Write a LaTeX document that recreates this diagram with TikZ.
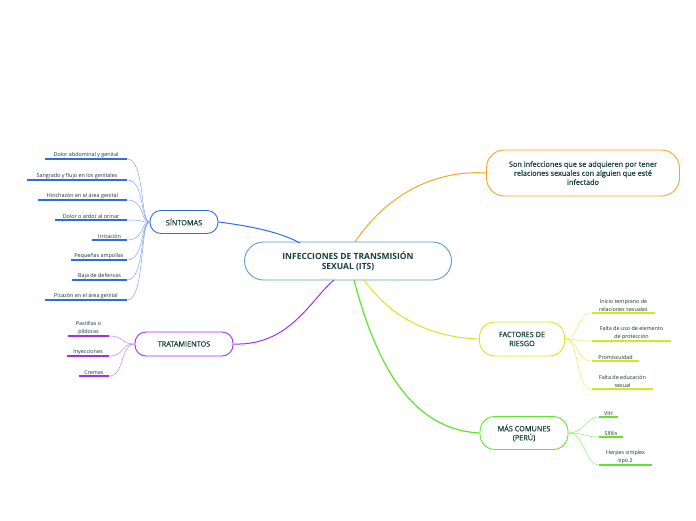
\documentclass[tikz,border=0pt]{standalone}
\usepackage{fontspec}
\setmainfont{Open Sans}
\usetikzlibrary{positioning}
\definecolor{txt}{HTML}{17403A}
\definecolor{cblue}{HTML}{2E6BE6}
\definecolor{ccen}{HTML}{5B9BD5}
\definecolor{cpur}{HTML}{A42EE6}
\definecolor{corg}{HTML}{F5A623}
\definecolor{cyel}{HTML}{CDEB1E}
\definecolor{cgrn}{HTML}{5EE62E}
\tikzset{
  topic/.style={draw, rounded corners=11pt, line width=0.9pt, fill=white, text=txt,
    align=center, font=\fontsize{7.3}{9}\selectfont\addfontfeatures{FakeBold=0.6}, inner sep=3pt},
  leaf/.style={text=txt!80!black, align=center, font=\fontsize{5.4}{7.4}\selectfont,
    inner sep=1.5pt, anchor=south},
  uline/.style={line width=1.2pt},
  link/.style={line width=0.5pt}
}
\begin{document}
\begin{tikzpicture}[x=1pt,y=-1pt]
\useasboundingbox (0,0) rectangle (696,520);
% main topics
\node[topic, draw=ccen, minimum width=207pt, minimum height=38pt, rounded corners=19pt,
  font=\fontsize{8.5}{10}\selectfont\bfseries] (its) at (348,261) {INFECCIONES DE TRANSMISIÓN\\SEXUAL (ITS)};
\node[topic, draw=cblue, minimum width=68pt, minimum height=23pt] (sint) at (184,222) {SÍNTOMAS};
\node[topic, draw=cpur, minimum width=98pt, minimum height=24pt] (trat) at (184,344) {TRATAMIENTOS};
\node[topic, draw=corg, minimum width=193pt, minimum height=46pt, rounded corners=18pt] (def) at (583,173)
  {Son infecciones que se adquieren por tener\\relaciones sexuales con alguien que esté\\infectado};
\node[topic, draw=cyel, minimum width=85pt, minimum height=34pt, rounded corners=15pt] (fact) at (522,339) {FACTORES DE\\RIESGO};
\node[topic, draw=cgrn, minimum width=88pt, minimum height=33pt, rounded corners=15pt] (com) at (524,433) {MÁS COMUNES\\(PERÚ)};

% main links
\draw[cblue, line width=1pt] (sint.east) .. controls (250,226) and (280,232) .. (300,243);
\draw[cpur, line width=1pt] (trat.east) .. controls (290,346) and (310,300) .. (334,280);
\draw[corg, line width=1pt] (355,242) .. controls (390,190) and (440,170) .. (def.west);
\draw[cyel, line width=1pt] (364,280) .. controls (400,330) and (450,338) .. (fact.west);
\draw[cgrn, line width=1.2pt] (354,280) .. controls (380,380) and (420,430) .. (com.west);

% síntomas
\foreach \t/\y/\w [count=\i] in {Dolor abdominal y genital/159/82, Sangrado y flujo en los genitales/180/100,
  Hinchazón en el área genital/200/89, Dolor o ardor al orinar/220/72, Irritación/240/35,
  Pequeñas ampollas/260/56, Baja de defensas/280/55, Picazón en el área genital/300/82}{
  \node[leaf, minimum width=\w pt] (s\i) at (127-\w/2,\y) {\t};
  \draw[cblue, uline] (s\i.south west) -- (s\i.south east);
  \draw[cblue!60, link] (s\i.south east) .. controls (145,\y) and (140,222) .. (sint.west);
}
% tratamientos
\foreach \t/\y/\w [count=\i] in {Pastillas o\\píldoras/336/41, Inyecciones/356/42, Cremas/376/30}{
  \node[leaf, minimum width=\w pt] (t\i) at (109-\w/2,\y) {\t};
  \draw[cpur, uline] (t\i.south west) -- (t\i.south east);
  \draw[cpur!60, link] (t\i.south east) .. controls (125,\y) and (120,344) .. (trat.west);
}
% factores
\foreach \t/\y/\w [count=\i] in {Inicio temprano de\\relaciones sexuales/313/63, Falta de uso de elemento\\de protección/341/79,
  Promiscuidad/361/47, Falta de educación\\sexual/389/61}{
  \node[leaf, minimum width=\w pt] (f\i) at (592+\w/2,\y) {\t};
  \draw[cyel, uline] (f\i.south west) -- (f\i.south east);
  \draw[cyel!70, link] (fact.east) .. controls (580,339) and (575,\y) .. (f\i.south west);
}
% más comunes
\foreach \t/\y/\w [count=\i] in {VIH/417/19, Sífilis/437/24, Herpes simplex\\tipo 2/465/53}{
  \node[leaf, minimum width=\w pt] (c\i) at (599+\w/2,\y) {\t};
  \draw[cgrn, uline] (c\i.south west) -- (c\i.south east);
  \draw[cgrn!70, link] (com.east) .. controls (585,433) and (585,\y) .. (c\i.south west);
}
\end{tikzpicture}
\end{document}
